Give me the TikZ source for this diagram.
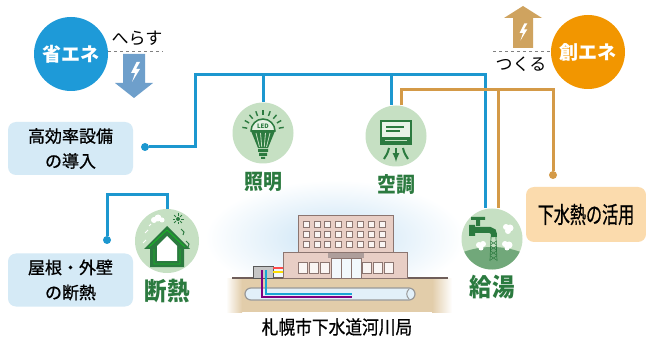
\documentclass[tikz,border=0pt]{standalone}
\usepackage{fontspec}
\usepackage{graphicx}
\setmainfont{Noto Sans CJK JP}
\newfontfamily\jpmed[FakeBold=0.8]{Noto Sans CJK JP}
\usetikzlibrary{arrows}
\usetikzlibrary{positioning}

\definecolor{sho}{HTML}{1E9AD8}
\definecolor{sou}{HTML}{F29600}
\definecolor{lnblue}{HTML}{1C97CF}
\definecolor{lnorange}{HTML}{D49A47}
\definecolor{arrdown}{HTML}{6E9FCB}
\definecolor{arrup}{HTML}{CFA35F}
\definecolor{leaf}{HTML}{C6E0C3}
\definecolor{forest}{HTML}{2B7A3F}
\definecolor{boxblue}{HTML}{D5EAF6}
\definecolor{boxpeach}{HTML}{FBDBAD}
\definecolor{wall}{HTML}{E8CEC5}
\definecolor{wallline}{HTML}{8B7570}
\definecolor{soil}{HTML}{E2CDAA}
\definecolor{sky}{HTML}{C9E3F5}

\newcommand{\squeeze}[2]{\scalebox{#1}[1]{#2}}

\tikzset{
  bigcirc/.style={circle, minimum size=74pt, inner sep=0pt, text=white, font=\bfseries\fontsize{19}{19}\selectfont},
  icon/.style={circle, fill=leaf, minimum size=61pt, inner sep=0pt},
  iconlabel/.style={text=forest, inner sep=0pt, font=\bfseries\fontsize{21}{21}\selectfont},
  biglabel/.style={text=forest, inner sep=0pt, font=\bfseries\fontsize{25}{25}\selectfont},
  infobox/.style={rounded corners=8pt, minimum width=125pt, minimum height=53pt, align=center, inner sep=0pt, font=\jpmed\fontsize{17}{25}\selectfont},
  wire/.style={line width=3pt},
  joint/.style={circle, inner sep=0pt, minimum size=8pt},
  tag/.style={inner sep=0pt, font=\fontsize{17}{17}\selectfont},
  guide/.style={dashed, gray, line width=1pt},
  bolt/.pic={\fill[white] (1.5,-10) -- (-4,1) -- (0,1) -- (-3,10) -- (5,-3) -- (1,-3) -- (5,-10) -- cycle;}
}

\begin{document}
\begin{tikzpicture}[x=1pt, y=-1pt]
\fill[white] (0,0) rectangle (646,342);
\useasboundingbox (0,0) rectangle (646,342);

% sky, soil and sewer pipe
\shade[inner color=sky, outer color=white] (335,238) ellipse [x radius=130, y radius=58];
\fill[soil] (242,278) rectangle (432,312);
\shade[left color=white, right color=soil] (226,278) rectangle (242,312);
\shade[left color=soil, right color=white] (432,278) rectangle (452,312);
\draw[line width=2pt, wallline!80!black] (232,278) -- (448,278);
\draw[fill=boxblue!70!white, draw=gray!80, line width=1.2pt, rounded corners=6pt] (245,288) rectangle (415,300);
\draw[gray!80, line width=1pt] (409,289) .. controls (406,292) and (406,296) .. (409,299);

% office building
\draw[fill=wall, draw=wallline, line width=0.8pt] (298,215) rectangle (393,252);
\draw[fill=wall, draw=wallline, line width=0.8pt] (283,252) rectangle (407,278);
\foreach \i in {0,...,7}
  \foreach \j in {0,1,2}
    \draw[fill=white!80!wall, draw=wallline, line width=0.7pt] ({303+\i*10.9},{221.5+\j*10}) rectangle ++(6,5.5);
\foreach \x in {298,309,320,362,373,384}
  \draw[fill=white!80!wall, draw=wallline, line width=0.7pt] (\x,262) rectangle ++(9,11);
\fill[wallline!70] (328,253) rectangle (364,258);
\draw[fill=white!75!sky, draw=wallline, line width=0.7pt] (331,258) rectangle (361,278);
\draw[wallline, line width=0.7pt] (341,258) -- (341,278) (351,258) -- (351,278);
\draw[fill=gray!45, draw=gray!70!black, line width=0.6pt] (253,266) rectangle (273,278);
\fill[red!70] (273,267) rectangle (283,269);
\fill[yellow!80!orange] (273,271) rectangle (283,273);
\draw[line width=1.3pt, violet] (262,270) |- (352,297);
\draw[line width=1.3pt, lnblue!85!cyan] (266,270) |- (352,294);

% energy circles and arrows
\node[bigcirc, fill=sho] (shoene) at (71,54) {省エネ};
\node[bigcirc, fill=sou] (souene) at (588,52) {創エネ};
\node[tag] (herasu) at (137,38) {へらす};
\node[tag] (tsukuru) at (521,64) {つくる};
\coordinate (hr) at (163,52);
\coordinate (tk) at (493,52);
\draw[guide] (shoene.east |- hr) -- (hr);
\draw[guide] (tk) -- (souene.west |- tk);
\fill[arrdown] (123,54) -- (145,54) -- (145,83) -- (153,83) -- (134,98) -- (115,83) -- (123,83) -- cycle;
\pic at (135,72) {bolt};
\fill[arrup] (513,48) -- (533,48) -- (533,18) -- (542,18) -- (523,6) -- (504,18) -- (513,18) -- cycle;
\pic[scale=0.85] at (523,32) {bolt};

% info boxes
\node[infobox, fill=boxblue] (kouritsu) at (70.5,148.5) {高効率設備\\の導入};
\node[infobox, fill=boxblue] (yane) at (70.5,280) {屋根・外壁\\の断熱};
\node[infobox, fill=boxpeach, minimum width=120pt, minimum height=55pt] (gesui) at (586,214.5)
  {\squeeze{0.7}{\fontsize{23}{23}\selectfont 下水熱の活用}};

% icons
\node[icon] (shomei) at (263,133) {};
\node[icon] (kucho) at (396,136) {};
\node[icon, minimum size=64pt] (dannetsu) at (167,241) {};
\node[icon] (kyuto) at (492,239) {};

\node[iconlabel, below=8pt of shomei] (shomeiL) {\squeeze{0.9}{照明}};
\node[iconlabel, below=8pt of kucho] (kuchoL) {\squeeze{0.9}{空調}};
\node[biglabel, below=6pt of dannetsu] (dannetsuL) {\squeeze{0.9}{断熱}};
\node[biglabel, below=5pt of kyuto] (kyutoL) {\squeeze{0.9}{給湯}};
\node[inner sep=0pt, font=\jpmed\fontsize{19}{19}\selectfont] (kyoku) at (337,327) {\squeeze{0.88}{札幌市下水道河川局}};

\begin{scope}[shift={(shomei.center)}]
  \foreach \a in {190,210,...,350}
    \draw[forest, line width=1.4pt] (0,-2) ++(\a:16) -- ++(\a:5);
  \fill[forest] (-12,-2) -- (12,-2) -- (5,15) -- (-5,15) -- cycle;
  \foreach \x in {-7,-2.5,2.5,7}
    \draw[leaf, line width=0.8pt] (\x,0) -- ({\x*0.5},14);
  \draw[forest, line width=1.5pt, fill=white!55!leaf] (-12,-2) arc[start angle=180, end angle=360, radius=12] -- cycle;
  \node[text=forest, inner sep=0pt, font=\bfseries\fontsize{6}{6}\selectfont] at (0,-7) {LED};
  \fill[forest] (-5,16) rectangle (5,19) (-4,20) rectangle (4,23) (-2,24) rectangle (2,26);
\end{scope}

\begin{scope}[shift={(kucho.center)}]
  \draw[forest, line width=2.2pt, fill=white!60!leaf] (-15,-15) rectangle (15,8);
  \draw[forest, line width=1.2pt] (-10,-9) -- (8,-9) (-10,-5) -- (4,-5);
  \fill[forest] (-15,1) rectangle (15,8);
  \draw[leaf, line width=0.8pt] (-11,4) -- (11,4);
  \draw[forest, line width=2pt] (-7,12) .. controls (-8,17) and (-10,20) .. (-12,23);
  \draw[forest, line width=2pt] (7,12) .. controls (8,17) and (10,20) .. (12,23);
  \draw[forest, line width=2pt, -latex] (0,12) -- (0,26);
\end{scope}

\begin{scope}[shift={(dannetsu.center)}]
  \fill[forest] (-23,8) -- (0,-15) -- (23,8) -- (17,8) -- (17,26) -- (-17,26) -- (-17,8) -- cycle;
  \draw[green!45!forest, line width=0.9pt] (-18,6) -- (0,-11) -- (18,6) (-13,8) -- (-13,23) -- (13,23) -- (13,8);
  \fill[white] (-10,5) -- (0,-5) -- (10,5) -- (10,20) -- (-10,20) -- cycle;
  \fill[forest] (11,-22) circle (2);
  \foreach \a in {0,45,...,315}
    \draw[forest, line width=0.8pt] (11,-22) ++(\a:3) -- ++(\a:2.5);
  \fill[white] (-13,-21) circle (3) (-9,-23) circle (3.5) (-5,-21) circle (2.5);
  \draw[white, line width=1pt] (-22,-8) -- (-19,-11) (-24,2) -- (-21,-1) (-18,-15) -- (-16,-17);
  \draw[forest, line width=1pt] (14,-12) -- (17,-9) -- (16,-6) (19,0) -- (22,3) -- (21,6);
\end{scope}

\begin{scope}[shift={(kyuto.center)}]
  \begin{scope}
    \clip (0,0) circle (30.5);
    \fill[forest!55!leaf] (-31,14) .. controls (-12,6) and (12,6) .. (31,14) -- (31,31) -- (-31,31) -- cycle;
  \end{scope}
  \draw[forest, line width=0.7pt] (-1,-2) -- (-2,22) (4,-2) -- (5,22);
  \foreach \y in {2,7,...,17}
    \draw[forest, line width=0.5pt] (-1.5,\y) -- (4.5,{\y+4}) (4.5,\y) -- (-1.5,{\y+4});
  \fill[white] (14,-12) circle (3) (18,-11) circle (3.5) (16,-8) circle (3)
               (13,5) circle (3) (17,6) circle (3.5) (15,9) circle (2.5)
               (-13,6) circle (3) (-9,5) circle (3) (-11,9) circle (2.5);
  \fill[forest] (-21,-22) rectangle (-7,-19) (-16,-19) rectangle (-12,-13) (-23,-14) rectangle (-17,-3);
  \draw[forest, line width=6pt] (-18,-9) -- (-2,-9) .. controls (1,-9) and (2,-7) .. (2,-2);
\end{scope}

% connectors
\node[joint, fill=lnblue] (dotK) at (145,147) {};
\node[joint, fill=lnblue] (dotY) at (107,240) {};
\node[joint, fill=lnorange] (dotG) at (553,175) {};
\coordinate (bL) at (195,75);
\coordinate (oR) at (553,90);
\coordinate (dT) at (107,195);

\draw[wire, lnblue] (dotK) -| (bL) -- ([xshift=-7pt]kyuto.north |- bL) -- ([xshift=-7pt]kyuto.north);
\draw[wire, lnblue] (shomei.north |- bL) -- (shomei.north);
\draw[wire, lnblue] ([xshift=-5pt]kucho.north |- bL) -- ([xshift=-5pt]kucho.north);
\draw[wire, lnblue] (dotY) -- (dT) -| (dannetsu.north);
\draw[wire, lnorange] ([xshift=5pt]kucho.north) |- (oR) -- (dotG);
\draw[wire, lnorange] ([xshift=6pt]kyuto.north |- oR) -- ([xshift=6pt]kyuto.north);
\end{tikzpicture}
\end{document}
